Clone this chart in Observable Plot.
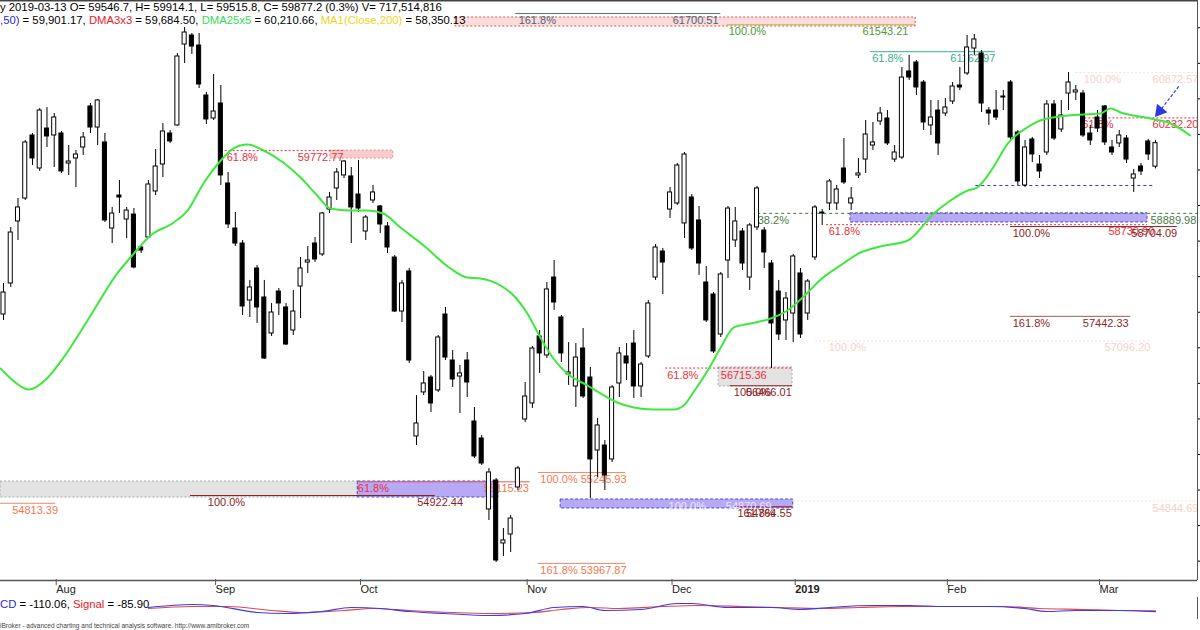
<!DOCTYPE html>
<html><head><meta charset="utf-8">
<script src="https://cdn.jsdelivr.net/npm/d3@7"></script>
<script src="https://cdn.jsdelivr.net/npm/@observablehq/plot@0.6"></script>
<style>
html,body{margin:0;padding:0;background:#fff;width:1200px;height:630px;overflow:hidden;font-family:"Liberation Sans",Arial,sans-serif;}
#wrap{position:relative;width:1200px;height:630px;}
#main{position:absolute;left:0;top:0;}
#macd{position:absolute;left:0;top:597px;}
.t{position:absolute;left:0;white-space:nowrap;color:#000;font-size:11.3px;line-height:14px;}
</style></head><body>
<div id="wrap">
  <div id="main"></div>
  <div id="macd"></div>
  <div class="t" style="top:0px;">y 2019-03-13 O= 59546.7, H= 59914.1, L= 59515.8, C= 59877.2 (0.3%) V= 717,514,816</div>
  <div class="t" style="top:13px;"><span style="color:#2a2ae0">,50)</span> = 59,901.17, <span style="color:#e8202a">DMA3x3</span> = 59,684.50, <span style="color:#33dd55">DMA25x5</span> = 60,210.66, <span style="color:#f2d21a">MA1(Close,200)</span> = 58,350.13</div>
  <div class="t" style="top:597px;"><span style="color:#2a2ae0">CD</span> = -110.06, <span style="color:#e8202a">Signal</span> = -85.90</div>
  <div class="t" style="top:622px;font-size:6.5px;line-height:8px;color:#444;">iBroker - advanced charting and technical analysis software. http://www.amibroker.com</div>
</div>
<script>
// ---- candles (bar index 0..159, last bar = 2019-03-13) ----
const open = [57468,57904,58776,59099,59985,59521,60083,59985,60013,59591,59662,59816,60393,60097,59887,58677,59141,58804,58874,58410,
58551,59198,59577,60013,60126,61264,61391,61250,60547,60224,60435,59310,58677,58466,57665,58115,57707,57201,57791,57567,
57243,57862,58199,58466,58312,58944,59240,59423,59409,59155,58635,59071,58987,58706,58269,57510,58073,55753,56372,56582,
56400,57468,56821,56596,56821,55964,55725,54727,55134,54249,54375,55036,55992,56217,57159,56892,57988,57426,56625,56456,
56990,56582,55556,55626,55430,56498,56878,57060,56456,56878,57988,58354,58944,59029,58748,59113,58790,57918,57749,57187,
58227,58509,58635,57988,58692,58649,58185,57791,57384,57482,58045,57482,58270,58902,59029,59029,59521,59029,59423,59647,
59844,60182,60224,59647,59675,60885,61011,60730,60126,60336,60294,60463,60688,60857,61208,61138,60336,60336,60519,60730,
60027,59282,59929,59577,59746,60421,60069,60575,60590,60575,60013,60238,60393,59816,59873,59943,59380,59549,59901,59546.7];
const high = [57904,58691,59099,59915,60013,60365,60379,60294,60041,59844,59774,60027,60435,60490,60013,58973,59352,58973,58958,58438,
59352,59788,60154,60055,61138,61503,61419,61419,60590,60843,60688,59465,58902,58509,57947,58157,57947,57623,57834,57623,
57806,58270,58424,58551,58902,59184,59521,59633,59535,59633,58860,59282,59001,58762,58298,57947,58115,56329,56667,56611,
57173,57567,56962,56751,56934,56161,55767,55303,55162,54459,54642,55331,56512,57018,57243,57918,58227,57454,57074,57060,
57271,56723,56006,55697,56470,57004,57060,57243,56793,57665,58452,58396,59254,59591,59746,59155,58987,58143,57777,58059,
58987,58973,58677,58748,59268,58692,58227,57947,57777,58312,58115,57960,59001,58944,59366,59282,59943,59254,59662,60196,
60168,60379,60336,59844,60941,61110,61039,60758,60477,60477,60505,60730,60941,61391,61405,61180,60379,60618,60618,60758,
60055,59915,59957,59704,60477,60477,60477,60871,60688,60618,60126,60336,60407,59915,60055,59985,59507,59591,59929,59914.1];
const low = [57384,57848,58509,59071,59563,59479,59816,59535,59451,59423,59254,59704,60013,59844,58762,58466,58888,58537,58110,58326,
58537,59141,59394,59873,60115,60997,61124,60646,60140,60196,59282,58677,58424,57454,57426,57342,56835,57159,57454,57032,
57173,57412,58045,58199,58284,58888,59071,59380,58466,58902,58509,59029,58607,58326,57496,57356,56779,55626,56329,56090,
56372,56821,56442,56076,56301,55444,55345,54572,53981,54066,54122,54994,55950,56147,56639,56849,57525,56793,56470,56161,
56287,54881,55177,54994,55387,56301,56540,56287,56301,56849,57947,57749,58818,59001,58537,58368,58017,57356,56920,57145,
57974,58410,58087,57806,58649,58115,56709,57103,57103,57074,57131,57384,58227,58720,58930,58930,59296,58930,59380,59451,
59774,60126,59844,59605,59647,60758,60547,60055,59985,59704,60252,60421,60618,60829,61110,60308,60126,60196,60336,59915,
59282,59254,59605,59380,59704,59915,60027,60336,60477,59957,59844,60027,59844,59704,59816,59591,59184,59423,59633,59515.8];
const close = [57777,58621,58973,59887,59662,60336,59971,60238,59479,59619,59718,59957,60097,60477,58790,58888,59113,58930,58129,58368,
59296,59549,60041,59901,61096,61433,61236,60702,60210,60322,59423,58734,58466,57581,57848,57567,56849,57496,57623,57046,
57510,58115,58227,58242,58888,59113,59465,59619,58973,58958,58832,59184,58734,58410,57510,57904,56821,55936,56498,56217,
57145,56863,56554,56639,56512,55472,55373,55247,54009,54291,54600,55303,56315,56990,56920,57820,57637,56920,56653,56863,
56315,55430,55908,55205,56442,56920,56779,56456,56765,57623,58410,58199,59184,59563,59718,58396,58185,57384,56948,58031,
58958,58776,58185,58720,59240,58340,57342,57187,57693,58284,57187,57932,58973,58888,59338,59226,59324,59099,59451,59999,
59887,60294,59873,59746,60800,60800,60660,60168,60238,59873,60379,60674,60660,61222,61335,60435,60294,60238,60533,59957,
59338,59816,59718,59479,60421,59943,60266,60730,60618,59985,59915,60083,59887,59746,59985,59647,59437,59479,59718,59877.2];

// ---- DMA25x5 (green) ----
const dmaIdx = [-0.4,1,3.5,6,8,11.6,15.7,18,20.3,23.5,25.4,27.6,30,31.7,33.7,35.9,38.6,41,43.3,45.1,47.9,50.2,52.4,54.8,58,61.7,64,65.8,68.6,70.4,72.3,74.1,75.9,77.8,80.6,82.4,84.7,87,89.7,92.5,93.9,95.2,97.2,99,100.8,103.1,105.5,108.2,111,112.8,115.5,118.3,121,124.8,128.4,130.7,133.1,134.4,136.6,138.6,141.3,143.1,146.9,151.4,152.8,154.2,158.3,161.1,163.8];
const dmaVal = [56709,56568,56414,56568,56821,57384,58045,58326,58579,58762,58930,59310,59633,59802,59858,59774,59605,59394,59141,58958,58930,58930,58888,58691,58438,58115,57988,57974,57876,57735,57482,57145,56849,56639,56470,56358,56231,56161,56132,56132,56189,56372,56681,57004,57286,57342,57398,57524,57777,57960,58157,58340,58424,58509,58888,59071,59212,59254,59535,59872,60097,60196,60266,60294,60365,60308,60224,60154,59985];

// ---- MACD pane ----
const macdIdx = [20,26,29,35,39,44,48,52,56,61,67,72,76,80,83,88,93,95,100,106,110,114,120,125,130,136,141,144,148,154,159];
const macdVal = [15,105,75,-135,-165,-105,15,-15,-105,-165,-225,-165,15,45,-75,-45,135,135,15,15,-45,15,75,75,45,45,-15,-105,-75,-75,-110.06];
const sigIdx = [20,26,31,37,41,47,51,56,62,67,73,77,81,85,91,96,102,107,113,118,124,131,138,143,149,154,159];
const sigVal = [-15,45,45,-75,-135,-75,-15,-75,-135,-165,-135,-45,15,-15,45,75,45,15,-15,15,45,45,45,-15,-45,-75,-85.90];

// ---- axis ----
const monthIdx = [7,29,49,72,92,109,130,151];
const monthLabels = ["Aug","Sep","Oct","Nov","Dec","2019","Feb","Mar"];

// ---- Fibonacci annotations (x in bar index, y in price) ----
const fibRules = [
  {v:61700.51,a:70.7,b:99.0,k:"slate"},{v:61543.21,a:99.9,b:125.9,k:"olive"},{v:61162.97,a:119.7,b:136.9,k:"teal"},
  {v:60872.57,a:148.0,b:164.8,k:"faint"},{v:60232.20,a:148.7,b:164.8,k:"red"},{v:59772.77,a:30.6,b:47.2,k:"red"},
  {v:58889.98,a:104.1,b:164.8,k:"dkgreen"},{v:58730.90,a:113.6,b:157.9,k:"red"},{v:58704.09,a:139.0,b:162.0,k:"darkred"},
  {v:57442.33,a:139.0,b:155.6,k:"brown"},{v:57096.20,a:112.1,b:158.3,k:"faint"},{v:56715.36,a:91.4,b:108.9,k:"red"},
  {v:56466.01,a:100.3,b:108.9,k:"darkred"},{v:55245.93,a:73.8,b:85.9,k:"salmon"},{v:55115.23,a:48.9,b:72.7,k:"red2"},
  {v:54922.44,a:25.8,b:59.6,k:"darkred"},{v:54813.39,a:-0.4,b:7.2,k:"salmon"},{v:54764.55,a:101.0,b:108.9,k:"darkred"},
  {v:53967.87,a:73.8,b:85.9,k:"salmon"},{v:59282,a:134.2,b:159,k:"blue"},{v:54844.69,a:109,b:164.8,k:"faint"}
];
const fibBoxes = [
  {a:62.4,b:125.9,top:61644,bot:61517,k:"pinkband"},{a:45.1,b:53.8,top:59773,bot:59661,k:"pink"},
  {a:116.9,b:157.9,top:58890,bot:58762,k:"lav"},{a:98.7,b:108.9,top:56723,bot:56456,k:"gray"},
  {a:-0.4,b:48.9,top:55120,bot:54895,k:"gray"},{a:48.9,b:68.3,top:55120,bot:54895,k:"lav"},
  {a:76.9,b:109,top:54867,bot:54741,k:"lav"}
];
const fibLabels = [
  {t:"161.8%",v:61700.51,x:71.1,k:"slate"},{t:"61700.51",v:61700.51,x:98.7,k:"slate",end:true},
  {t:"100.0%",v:61543.21,x:100.1,k:"olive"},{t:"61543.21",v:61543.21,x:124.9,k:"olive",end:true},
  {t:"61.8%",v:61162.97,x:119.9,k:"teal"},{t:"61162.97",v:61162.97,x:136.9,k:"teal",end:true},
  {t:"100.0%",v:60872.57,x:149.1,k:"faint"},{t:"60872.57",v:60872.57,x:158.6,k:"faint"},
  {t:"61.8%",v:60232.20,x:148.9,k:"red"},{t:"60232.20",v:60232.20,x:158.6,k:"red"},
  {t:"61.8%",v:59772.77,x:30.8,k:"red"},{t:"59772.77",v:59772.77,x:40.6,k:"red"},
  {t:"38.2%",v:58889.98,x:104.1,k:"dkgreen"},{t:"58889.98",v:58889.98,x:158.3,k:"dkgreen"},
  {t:"61.8%",v:58730.90,x:113.9,k:"red"},{t:"100.0%",v:58704.09,x:139.3,k:"darkred"},
  {t:"58730.90",v:58730.90,x:152.5,k:"red"},{t:"58704.09",v:58704.09,x:162.0,k:"darkred",end:true},
  {t:"161.8%",v:57442.33,x:139.3,k:"brown"},{t:"57442.33",v:57442.33,x:155.3,k:"brown",end:true},
  {t:"100.0%",v:57096.20,x:113.9,k:"faint"},{t:"57096.20",v:57096.20,x:158.3,k:"faint",end:true},
  {t:"61.8%",v:56715.36,x:91.6,k:"red"},{t:"56715.36",v:56715.36,x:99.0,k:"red"},
  {t:"100.0%",v:56466.01,x:100.8,k:"darkred"},{t:"56466.01",v:56466.01,x:108.8,k:"darkred",end:true},
  {t:"100.0% 55245.93",v:55245.93,x:74.1,k:"salmon"},
  {t:"61.8%",v:55115.23,x:48.9,k:"red"},{t:"55115.23",v:55115.23,x:66.3,k:"salmon"},
  {t:"100.0%",v:54922.44,x:28.2,k:"darkred"},{t:"54922.44",v:54922.44,x:57.1,k:"darkred"},
  {t:"54813.39",v:54813.39,x:1.2,k:"salmon"},
  {t:"100.0%",v:54870.69,x:91.8,k:"lavtext"},{t:"54870.69",v:54870.69,x:99.7,k:"lavtext"},
  {t:"161.8%",v:54764.55,x:101.3,k:"darkred"},{t:"54764.55",v:54764.55,x:108.8,k:"darkred",end:true},
  {t:"161.8% 53967.87",v:53967.87,x:74.1,k:"salmon"},
  {t:"54844.69",v:54844.69,x:158.6,k:"faintsalmon"}
];
const arrowPts = {i1:162.2,p1:60674,i2:159.6,p2:60330};

// ---- styles ----
const lineColor = {slate:"#55707e",olive:"#b4c44c",teal:"#3aae8e",faint:"#f7dede",red:"#e8303e",dkgreen:"#3d7a3d",
  darkred:"#8a1c1c",brown:"#a05a5a",salmon:"#f08c66",red2:"#e25a5a",blue:"#3434c0"};
const lineDash = {faint:"2,2",red:"2,2",dkgreen:"3,3",blue:"3,3",red2:null};
const textColor = {slate:"#4b6675",olive:"#4a9a3a",teal:"#3aae8e",faint:"#f5d2d2",red:"#e8303c",dkgreen:"#4a7a4a",
  darkred:"#8a1c1c",brown:"#8b2a2a",salmon:"#f07a50",lavtext:"#ece6ff",faintsalmon:"#f6d0c2"};
const boxFill = {pinkband:"#fadcdc",pink:"#f9cccc",lav:"#b8a9f6",gray:"#e3e3e3"};
const boxStroke = {pinkband:"#e05050",pink:"#e89090",lav:"#4a4ad0",gray:"#a8a8a8"};

const xDomain = [-0.414, 164.8];
const yDomain = [53728, 61883];
const bars = open.map((o,i)=>({i, o, h:high[i], l:low[i], c:close[i]}));
const dma = dmaIdx.map((x,j)=>({x, y:dmaVal[j]}));
const font = "Liberation Sans, Arial, sans-serif";

const ruleMarks = [];
for (const [dash, filt] of [["2,2", d=>lineDash[d.k]==="2,2"],["3,3", d=>lineDash[d.k]==="3,3"],[null, d=>!lineDash[d.k]]]) {
  ruleMarks.push(Plot.ruleY(fibRules.filter(filt), {y:"v", x1:"a", x2:"b", stroke:d=>lineColor[d.k], strokeWidth:1, strokeDasharray: dash || undefined}));
}

const main = Plot.plot({
  width:1200, height:597, marginLeft:0, marginRight:3, marginTop:0, marginBottom:17,
  x:{domain:xDomain, axis:null},
  y:{domain:yDomain, axis:null},
  color:{type:"identity"},
  style:{background:"white", fontFamily:font},
  marks:[
    Plot.rect(fibBoxes.filter(d=>d.k!=="lav"), {x1:"a", x2:"b", y1:"bot", y2:"top", fill:d=>boxFill[d.k], stroke:d=>boxStroke[d.k], strokeDasharray:"2,2"}),
    Plot.rect(fibBoxes.filter(d=>d.k==="lav"), {x1:"a", x2:"b", y1:"bot", y2:"top", fill:d=>boxFill[d.k], stroke:d=>boxStroke[d.k], strokeDasharray:"3,2"}),
    ...ruleMarks,
    Plot.text(fibLabels.filter(d=>!d.end), {x:"x", y:"v", text:"t", fill:d=>textColor[d.k], textAnchor:"start", dy:7, fontSize:11}),
    Plot.text(fibLabels.filter(d=>d.end), {x:"x", y:"v", text:"t", fill:d=>textColor[d.k], textAnchor:"end", dy:7, fontSize:11}),
    Plot.ruleX(bars, {x:"i", y1:"l", y2:"h", stroke:"#000", strokeWidth:1}),
    Plot.rect(bars, {x1:d=>d.i-0.28, x2:d=>d.i+0.28, y1:"o", y2:"c", fill:d=>d.c>=d.o?"#fff":"#000", stroke:"#000", strokeWidth:1}),
    Plot.line(dma, {x:"x", y:"y", stroke:"#3ee83e", strokeWidth:2, curve:"monotone-x"}),
    Plot.link([arrowPts], {x1:"i1", y1:"p1", x2:"i2", y2:"p2", stroke:"#2a3ae0", strokeDasharray:"3,2", strokeWidth:1.2}),
    Plot.dot([arrowPts], {x:"i2", y:"p2", symbol:"triangle", r:5, fill:"#2a3ae0", stroke:"none", rotate:219}),
    Plot.ruleY([yDomain[0]], {stroke:"#555", strokeWidth:1.5}),
    Plot.ruleY([yDomain[1]], {stroke:"#444", strokeWidth:2}),
    Plot.ruleX([xDomain[1]], {stroke:"#555", strokeWidth:1}),
    Plot.axisY({anchor:"right", ticks:d3.range(54000, 61600, 500), tickFormat:()=>"", tickSize:4}),
    Plot.axisX({ticks:monthIdx, tickFormat:d=>monthLabels[monthIdx.indexOf(d)], tickSize:6, tickPadding:0, textAnchor:"start", dx:2, dy:-1, fontSize:11, fill:"#222", stroke:"#555"})
  ]
});
d3.select(main).selectAll("text").filter(function(){return this.textContent==="2019";}).attr("font-weight","bold");
document.getElementById("main").appendChild(main);

const macd = Plot.plot({
  width:1200, height:22, marginLeft:0, marginRight:3, marginTop:0, marginBottom:0,
  x:{domain:xDomain, axis:null},
  y:{domain:[-345,315], axis:null},
  style:{background:"transparent"},
  marks:[
    Plot.line(sigIdx.map((x,j)=>({x, y:sigVal[j]})), {x:"x", y:"y", stroke:"#e04848", strokeWidth:1.2, curve:"monotone-x"}),
    Plot.line(macdIdx.map((x,j)=>({x, y:macdVal[j]})), {x:"x", y:"y", stroke:"#3a3af0", strokeWidth:1.2, curve:"monotone-x"}),
    Plot.ruleX([xDomain[1]], {stroke:"#555"})
  ]
});
document.getElementById("macd").appendChild(macd);
</script>
</body></html>
